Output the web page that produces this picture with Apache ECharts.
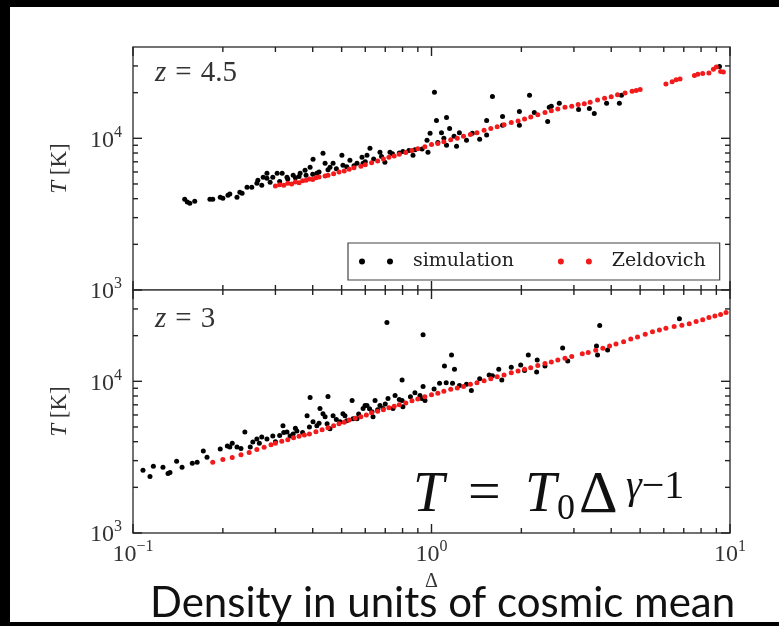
<!DOCTYPE html>
<html>
<head>
<meta charset="utf-8">
<script src="https://cdn.jsdelivr.net/npm/echarts@6/dist/echarts.min.js"></script>
<style>
  html, body { margin: 0; padding: 0; background: #000; }
  #page { position: absolute; left: 10px; top: 7px; width: 769px; height: 615px; background: #fff; }
  #main { position: absolute; left: 0; top: 0; width: 779px; height: 626px; }
</style>
</head>
<body>
<div id="page"></div>
<div id="main"></div>
<script>
// z = 4.5 panel: simulation (black) and Zeldovich (red), [Delta, T]
const simTop = [
  [0.149, 3970], [0.152, 3800], [0.155, 3730], [0.161, 3850], [0.181, 3970], [0.185, 3970],
  [0.196, 4090], [0.200, 4030], [0.208, 4220], [0.211, 4300], [0.223, 4090], [0.228, 4410],
  [0.232, 4350], [0.241, 4760], [0.250, 4760], [0.260, 5060], [0.262, 5290], [0.270, 4910],
  [0.273, 5540], [0.281, 5450], [0.281, 5880], [0.288, 5140], [0.294, 5540], [0.304, 5880],
  [0.31, 5200], [0.316, 5880], [0.328, 5540], [0.33, 5400], [0.344, 5710], [0.35, 5500],
  [0.36, 5600], [0.363, 5880], [0.377, 6160], [0.38, 5700], [0.392, 6440], [0.40, 5800],
  [0.401, 7270], [0.413, 5880], [0.42, 6000], [0.433, 7960], [0.440, 6850], [0.45, 6200],
  [0.457, 6440], [0.468, 6850], [0.48, 6300], [0.501, 7730], [0.505, 6640], [0.52, 6500],
  [0.533, 7170], [0.55, 6600], [0.563, 6850], [0.585, 7500], [0.590, 6850], [0.60, 7000],
  [0.608, 7730], [0.622, 8590], [0.64, 7300], [0.672, 8090], [0.68, 7600], [0.698, 6950],
  [0.726, 8090], [0.74, 7900], [0.78, 8000], [0.802, 8200], [0.84, 8300], [0.867, 7730],
  [0.88, 8400], [0.93, 8500], [0.966, 9700], [0.973, 8090], [0.989, 10800], [1.023, 20100],
  [1.039, 13100], [1.05, 9400], [1.08, 10900], [1.1, 10000], [1.123, 13700], [1.123, 9000],
  [1.15, 11600], [1.19, 10300], [1.213, 8860], [1.24, 10900], [1.31, 9700], [1.37, 10800],
  [1.45, 9850], [1.53, 13100], [1.53, 10500], [1.60, 18900], [1.73, 13950], [1.73, 12200],
  [1.97, 15000], [1.97, 12200], [2.13, 19200], [2.21, 14800], [2.45, 12900], [2.48, 16000],
  [2.52, 16300], [2.68, 17000], [3.11, 15500], [3.38, 15700], [3.51, 14600], [3.86, 17000],
  [4.26, 17000], [4.33, 19200], [9.22, 29800]
];
const zelTop = [
  [0.30, 4850], [0.31, 4950], [0.32, 4900], [0.33, 5050], [0.34, 5000], [0.35, 5150],
  [0.36, 5100], [0.37, 5250], [0.38, 5300], [0.39, 5400], [0.40, 5350], [0.41, 5500],
  [0.42, 5550], [0.44, 5650], [0.45, 5700], [0.47, 5850], [0.49, 6000], [0.51, 6100],
  [0.53, 6250], [0.55, 6400], [0.58, 6550], [0.60, 6700], [0.63, 6900], [0.66, 7100],
  [0.69, 7300], [0.72, 7500], [0.75, 7650], [0.78, 7850], [0.82, 8050], [0.86, 8300],
  [0.90, 8550], [0.95, 8800], [1.0, 9100], [1.05, 9250], [1.1, 9500], [1.16, 9800],
  [1.22, 10000], [1.28, 10300], [1.35, 10600], [1.42, 10900], [1.5, 11300], [1.58, 11600],
  [1.66, 11900], [1.75, 12300], [1.85, 12700], [1.95, 13000], [2.05, 13400], [2.15, 13800],
  [2.27, 14300], [2.4, 14800], [2.52, 15200], [2.65, 15600], [2.8, 16000], [2.95, 16300],
  [3.1, 16700], [3.25, 16900], [3.4, 17300], [3.6, 17900], [3.8, 18400], [4.0, 18800],
  [4.2, 19400], [4.45, 19900], [4.7, 20400], [4.85, 20700], [5.0, 21000], [6.1, 22800],
  [6.4, 23600], [6.6, 24300], [6.8, 24600], [7.6, 26000], [7.8, 26400], [8.1, 26800],
  [8.5, 27000], [8.8, 28500], [9.0, 29500], [9.3, 27600], [9.5, 27400]
];
// z = 3 panel
const simBottom = [
  [0.108, 2590], [0.114, 2360], [0.117, 2750], [0.126, 2710], [0.131, 2470], [0.133, 2510],
  [0.140, 2970], [0.146, 2710], [0.158, 2880], [0.164, 2930], [0.172, 3470], [0.177, 3160],
  [0.196, 3580], [0.207, 3740], [0.211, 3690], [0.215, 3900], [0.223, 3690], [0.23, 3600],
  [0.237, 4640], [0.247, 3690], [0.252, 3980], [0.260, 4170], [0.265, 3900], [0.27, 4300],
  [0.281, 4170], [0.294, 4360], [0.30, 4000], [0.31, 4400], [0.318, 5090], [0.32, 4600],
  [0.328, 4640], [0.336, 4360], [0.344, 4500], [0.35, 4900], [0.354, 4710], [0.37, 4600],
  [0.383, 5930], [0.39, 5000], [0.392, 7820], [0.401, 5410], [0.413, 5090], [0.42, 5300],
  [0.423, 6610], [0.433, 6120], [0.440, 5840], [0.447, 5250], [0.450, 7940], [0.457, 4860],
  [0.468, 5930], [0.48, 5600], [0.494, 5410], [0.505, 6120], [0.513, 5930], [0.52, 5500],
  [0.542, 7470], [0.546, 5670], [0.563, 5670], [0.57, 6100], [0.590, 6610], [0.599, 6920],
  [0.608, 6920], [0.62, 6600], [0.632, 6310], [0.637, 5840], [0.647, 7470], [0.66, 6500],
  [0.672, 6920], [0.688, 6610], [0.70, 7100], [0.709, 24400], [0.715, 7700], [0.743, 6610],
  [0.755, 8070], [0.78, 7600], [0.797, 10200], [0.797, 7470], [0.802, 6810], [0.85, 7900],
  [0.88, 8400], [0.915, 8070], [0.929, 7700], [0.937, 20300], [0.937, 9260], [0.951, 7470],
  [1.02, 8900], [1.064, 9700], [1.105, 12600], [1.12, 9800], [1.167, 14900], [1.176, 9700],
  [1.194, 12000], [1.241, 9400], [1.31, 9550], [1.36, 8710], [1.45, 10400], [1.56, 11000],
  [1.6, 10900], [1.68, 12000], [1.72, 10200], [1.85, 12400], [1.99, 12800], [2.05, 11800],
  [2.11, 14900], [2.25, 11500], [2.26, 13800], [2.4, 12600], [2.75, 16600], [2.86, 13600],
  [3.57, 17100], [3.60, 14900], [3.66, 23300], [3.89, 16100], [6.77, 25900]
];
const zelBottom = [
  [0.185, 2930], [0.20, 3050], [0.215, 3150], [0.23, 3280], [0.245, 3400], [0.26, 3550],
  [0.275, 3680], [0.29, 3820], [0.30, 3900], [0.315, 4020], [0.33, 4120], [0.345, 4250],
  [0.36, 4350], [0.375, 4420], [0.39, 4500], [0.41, 4650], [0.43, 4800], [0.45, 4950],
  [0.47, 5100], [0.49, 5250], [0.51, 5380], [0.53, 5550], [0.555, 5700], [0.58, 5850],
  [0.605, 6000], [0.63, 6200], [0.66, 6350], [0.69, 6500], [0.72, 6700], [0.75, 6850],
  [0.78, 7000], [0.82, 7200], [0.86, 7450], [0.90, 7650], [0.95, 7900], [1.0, 8150],
  [1.05, 8350], [1.1, 8600], [1.16, 8850], [1.22, 9050], [1.28, 9250], [1.35, 9550],
  [1.42, 9800], [1.5, 10100], [1.58, 10400], [1.66, 10700], [1.75, 11000], [1.85, 11400],
  [1.95, 11700], [2.05, 12000], [2.15, 12300], [2.27, 12700], [2.4, 13100], [2.52, 13400],
  [2.65, 13800], [2.8, 14200], [2.95, 14600], [3.2, 15200], [3.35, 15500], [3.55, 16000],
  [3.75, 16500], [3.95, 17100], [4.15, 17600], [4.4, 18200], [4.65, 19000], [4.9, 19600],
  [5.2, 20400], [5.5, 21200], [5.8, 21800], [6.1, 22400], [6.5, 23000], [6.9, 23400],
  [7.3, 24000], [7.7, 24800], [8.1, 25500], [8.5, 26300], [8.9, 27000], [9.3, 27600], [9.7, 28400]
];

const seriesNames = ['simulation', 'Zeldovich'];
const xRange = [0.1, 10];
const yRange = [1000, 40000];
const xMajorTicks = [0.1, 1, 10];
const xMinorTicks = [0.2, 0.3, 0.4, 0.5, 0.6, 0.7, 0.8, 0.9, 2, 3, 4, 5, 6, 7, 8, 9];
const yMajorTicks = [1000, 10000];
const yMinorTicks = [2000, 3000, 4000, 5000, 6000, 7000, 8000, 9000, 20000, 30000];

const serif = 'Liberation Serif';
const ink = '#333';

// 10^n labels, only at whole decades
function powLabel(v) {
  const lg = Math.log10(v);
  const e = Math.round(lg);
  if (Math.abs(lg - e) > 1e-6) return '';
  return '{b|10}{s|' + (e < 0 ? '−' : '') + Math.abs(e) + '}';
}
const powRich = {
  b: { fontFamily: serif, fontSize: 24, color: ink, verticalAlign: 'bottom', lineHeight: 28 },
  s: { fontFamily: serif, fontSize: 16, color: ink, verticalAlign: 'top', lineHeight: 28 }
};

// inward ticks on all four sides of a panel
function tickSeries(idx, dir) {
  const data = dir === 'x'
    ? xMajorTicks.map(v => [v, yRange[0], 1]).concat(xMinorTicks.map(v => [v, yRange[0], 0]))
    : yMajorTicks.map(v => [xRange[0], v, 1]).concat(yMinorTicks.map(v => [xRange[0], v, 0]));
  return {
    type: 'custom', xAxisIndex: idx, yAxisIndex: idx, silent: true, clip: false, z: 5,
    data: data,
    renderItem(params, api) {
      const cs = params.coordSys;
      const len = api.value(2) ? 9 : 5;
      const p = api.coord([api.value(0), api.value(1)]);
      const st = { stroke: '#222', lineWidth: 1.4 };
      if (dir === 'x') {
        return { type: 'group', children: [
          { type: 'line', shape: { x1: p[0], y1: cs.y, x2: p[0], y2: cs.y + len }, style: st },
          { type: 'line', shape: { x1: p[0], y1: cs.y + cs.height - len, x2: p[0], y2: cs.y + cs.height }, style: st }
        ] };
      }
      return { type: 'group', children: [
        { type: 'line', shape: { x1: cs.x, y1: p[1], x2: cs.x + len, y2: p[1] }, style: st },
        { type: 'line', shape: { x1: cs.x + cs.width - len, y1: p[1], x2: cs.x + cs.width, y2: p[1] }, style: st }
      ] };
    }
  };
}

function xAxisFor(idx, labels) {
  return {
    gridIndex: idx, type: 'log', logBase: 10, min: xRange[0], max: xRange[1],
    axisLine: { show: false }, axisTick: { show: false }, splitLine: { show: false },
    axisLabel: { show: labels, formatter: powLabel, rich: powRich, margin: 6, showMinLabel: true, showMaxLabel: true },
    name: labels ? 'Δ' : '', nameLocation: 'middle', nameGap: 39,
    nameTextStyle: { fontFamily: serif, fontSize: 20, color: ink }
  };
}
function yAxisFor(idx) {
  return {
    gridIndex: idx, type: 'log', logBase: 10, min: yRange[0], max: yRange[1],
    axisLine: { show: false }, axisTick: { show: false }, splitLine: { show: false },
    axisLabel: { formatter: powLabel, rich: powRich, margin: 11, showMinLabel: true },
    name: '{i|T} [K]', nameLocation: 'middle', nameGap: 62,
    nameTextStyle: { fontFamily: serif, fontSize: 23, color: ink,
      rich: { i: { fontFamily: serif, fontStyle: 'italic', fontSize: 23, color: ink } } }
  };
}

function scatter(name, idx, data, color, z) {
  return { name: name, type: 'scatter', xAxisIndex: idx, yAxisIndex: idx, data: data,
    symbolSize: 5, itemStyle: { color: color, opacity: 1 }, z: z };
}

// formula pieces T = T0 Δ^(γ-1)
const formula = [
  { text: 'T', left: 413, top: 468, size: 56, italic: true },
  { text: '=', left: 468, top: 466, size: 58, italic: false },
  { text: 'T', left: 525, top: 468, size: 56, italic: true },
  { text: '0', left: 557, top: 492, size: 36, italic: false },
  { text: 'Δ', left: 579, top: 466, size: 60, italic: false },
  { text: '{g|γ}−1', left: 626, top: 467, size: 40, italic: false }
];

const zRich = {
  i: { fontFamily: serif, fontStyle: 'italic', fontSize: 29, fill: ink },
  e: { fontFamily: serif, fontSize: 29, fill: ink, padding: [0, 9, 0, 9] },
  n: { fontFamily: serif, fontSize: 29, fill: ink }
};

const chart = echarts.init(document.getElementById('main'));
chart.setOption({
  animation: false,
  grid: [
    { left: 133, top: 47, width: 597, height: 243, show: true, borderColor: '#444', borderWidth: 1.5, backgroundColor: '#fff' },
    { left: 133, top: 290, width: 597, height: 243, show: true, borderColor: '#444', borderWidth: 1.5, backgroundColor: '#fff' }
  ],
  xAxis: [xAxisFor(0, false), xAxisFor(1, true)],
  yAxis: [yAxisFor(0), yAxisFor(1)],
  legend: {
    data: seriesNames, left: 348, top: 243, selectedMode: false,
    icon: 'path://M0,3a3,3 0 1,0 6,0a3,3 0 1,0 -6,0zM28,3a3,3 0 1,0 6,0a3,3 0 1,0 -6,0z',
    itemWidth: 34, itemHeight: 6, itemGap: 44, padding: [9, 14, 9, 11],
    borderColor: '#444', borderWidth: 1.2, backgroundColor: '#fff', borderRadius: 0,
    textStyle: { fontFamily: 'DejaVu Serif', fontSize: 19, color: '#222', padding: [0, 0, 0, 15] }
  },
  graphic: [
    { type: 'text', left: 155, top: 59, z: 10, style: { text: '{i|z}{e|=}{n|4.5}', rich: zRich } },
    { type: 'text', left: 155, top: 305, z: 10, style: { text: '{i|z}{e|=}{n|3}', rich: zRich } }
  ].concat(formula.map(f => ({
    type: 'text', left: f.left, top: f.top, z: 10,
    style: { text: f.text, fill: '#111', font: (f.italic ? 'italic ' : '') + f.size + 'px "' + serif + '"',
      rich: { g: { fontFamily: serif, fontStyle: 'italic', fontSize: f.size, fill: '#111' } } }
  }))).concat([
    { type: 'text', left: 150, top: 582, z: 10,
      style: { text: 'Density in units of cosmic mean', fill: '#111', font: '42px Lato' } }
  ]),
  series: [
    scatter(seriesNames[0], 0, simTop, '#000', 3),
    scatter(seriesNames[1], 0, zelTop, '#f21a1a', 4),
    scatter(seriesNames[0], 1, simBottom, '#000', 3),
    scatter(seriesNames[1], 1, zelBottom, '#f21a1a', 4),
    tickSeries(0, 'x'), tickSeries(0, 'y'), tickSeries(1, 'x'), tickSeries(1, 'y')
  ]
});
</script>
</body>
</html>
